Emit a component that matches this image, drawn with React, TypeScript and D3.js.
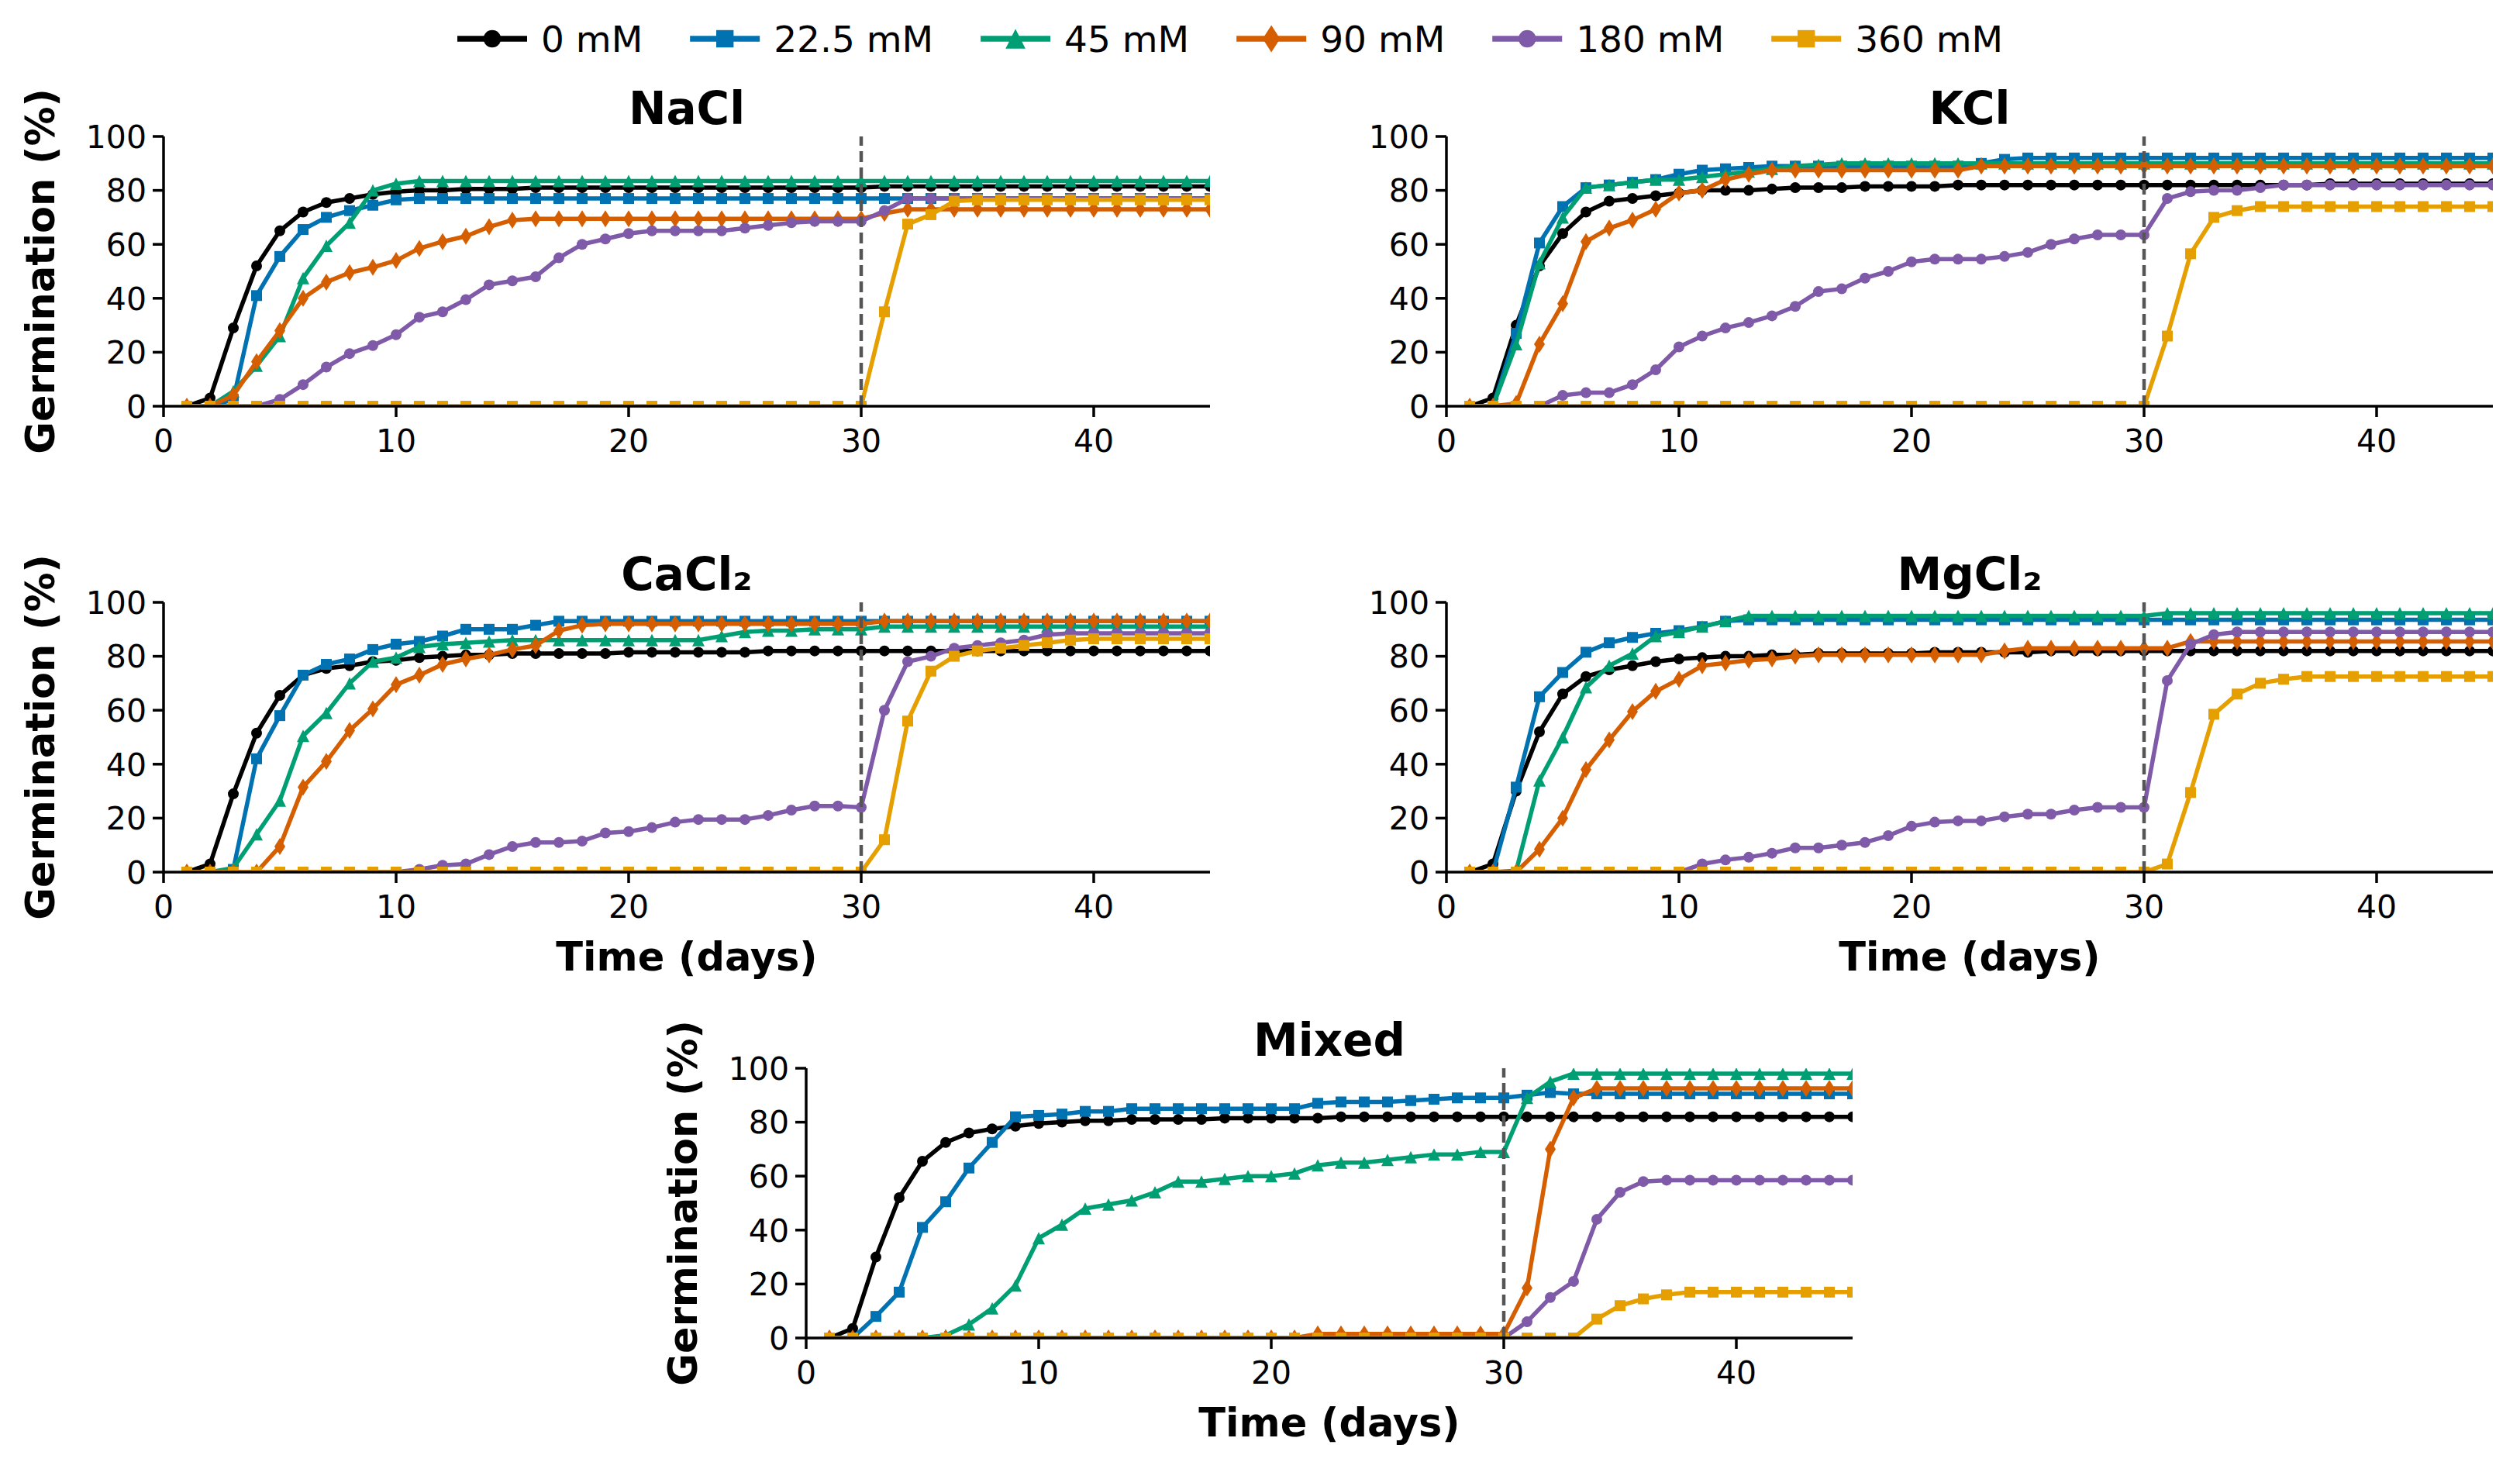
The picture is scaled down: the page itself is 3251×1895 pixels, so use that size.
import * as d3 from "d3";
import { useEffect } from "react";

// days 1..45, one reading per day
const days = d3.range(1, 46);
const concentrations = ["0 mM", "22.5 mM", "45 mM", "90 mM", "180 mM", "360 mM"];
const colors = ["#000000", "#0072B2", "#009E73", "#D55E00", "#7F5AA8", "#E69F00"];
const markerKinds = ["circle", "square", "triangle", "diamond", "circle", "square"];
const xTicks = [0, 10, 20, 30, 40];
const yTicks = [0, 20, 40, 60, 80, 100];

const nacl = [
  [0, 3, 29, 52, 65, 72, 75.5, 77, 78.5, 79.5, 80, 80, 80.5, 80.5, 80.5,
   81, 81, 81, 81, 81, 81, 81, 81, 81, 81, 81, 81, 81, 81, 81,
   81.5, 81.5, 81.5, 81.5, 81.5, 81.5, 81.5, 81.5, 81.5, 81.5, 81.5, 81.5, 81.5, 81.5, 81.5],
  [0, 0, 2.5, 41, 55.5, 65.5, 70, 72.5, 74.5, 76.5, 77, 77, 77, 77, 77,
   77, 77, 77, 77, 77, 77, 77, 77, 77, 77, 77, 77, 77, 77, 77,
   77, 77, 77, 77, 77, 77, 77, 77, 77, 77, 77, 77, 77, 77, 77],
  [0, 0, 5.5, 15, 26, 47.5, 59.5, 68, 80, 82.5, 83.5, 83.5, 83.5, 83.5, 83.5,
   83.5, 83.5, 83.5, 83.5, 83.5, 83.5, 83.5, 83.5, 83.5, 83.5, 83.5, 83.5, 83.5, 83.5, 83.5,
   83.5, 83.5, 83.5, 83.5, 83.5, 83.5, 83.5, 83.5, 83.5, 83.5, 83.5, 83.5, 83.5, 83.5, 83.5],
  [0, 0, 4, 16.5, 28, 40, 46, 49.5, 51.5, 54, 58.5, 61, 63, 66.5, 69,
   69.5, 69.5, 69.5, 69.5, 69.5, 69.5, 69.5, 69.5, 69.5, 69.5, 69.5, 69.5, 69.5, 69.5, 69.5,
   71.5, 73, 73, 73, 73, 73, 73, 73, 73, 73, 73, 73, 73, 73, 73],
  [0, 0, 0, 0, 2.5, 8, 14.5, 19.5, 22.5, 26.5, 33, 35, 39.5, 45, 46.5,
   48, 55, 60, 62, 64, 65, 65, 65, 65, 66, 67, 68, 68.5, 68.5, 68.5,
   72.5, 77, 77, 77, 77, 77, 77, 77, 77, 77, 77, 77, 77, 77, 77],
  [0, 0, 0, 0, 0, 0, 0, 0, 0, 0, 0, 0, 0, 0, 0,
   0, 0, 0, 0, 0, 0, 0, 0, 0, 0, 0, 0, 0, 0, 0,
   35, 67.5, 71, 76, 76.5, 76.5, 76.5, 76.5, 76.5, 76.5, 76.5, 76.5, 76.5, 76.5, 76.5],
];

const kcl = [
  [0, 3, 30, 52, 64, 72, 76, 77, 78, 79, 80, 80, 80, 80.5, 81,
   81, 81, 81.5, 81.5, 81.5, 81.5, 82, 82, 82, 82, 82, 82, 82, 82, 82,
   82, 82, 82, 82, 82, 82, 82, 82.5, 82.5, 82.5, 82.5, 82.5, 82.5, 82.5, 82.5],
  [0, 0, 27, 60.5, 74, 81, 82, 83, 84, 86, 87.5, 88, 88.5, 89, 89,
   89, 89, 89, 89, 89, 89, 89, 90, 91.5, 92, 92, 92, 92, 92, 92,
   92, 92, 92, 92, 92, 92, 92, 92, 92, 92, 92, 92, 92, 92, 92],
  [0, 0, 23, 53, 70, 81, 82, 83, 84, 84, 85, 86, 87, 88, 89,
   89.5, 90, 90, 90, 90, 90, 90, 90, 90, 90, 90, 90, 90, 90, 90,
   90, 90, 90, 90, 90, 90, 90, 90, 90, 90, 90, 90, 90, 90, 90],
  [0, 0, 1, 23, 38, 61, 66, 69, 73, 79, 80, 84, 86, 87.5, 87.5,
   87.5, 87.5, 87.5, 87.5, 87.5, 87.5, 87.5, 89, 89, 89, 89, 89, 89, 89, 89,
   89, 89, 89, 89, 89, 89, 89, 89, 89, 89, 89, 89, 89, 89, 89],
  [0, 0, 0, 0, 4, 5, 5, 8, 13.5, 22, 26, 29, 31, 33.5, 37,
   42.5, 43.5, 47.5, 50, 53.5, 54.5, 54.5, 54.5, 55.5, 57, 60, 62, 63.5, 63.5, 63.5,
   77, 79.5, 80, 80, 81, 82, 82, 82, 82, 82, 82, 82, 82, 82, 82],
  [0, 0, 0, 0, 0, 0, 0, 0, 0, 0, 0, 0, 0, 0, 0,
   0, 0, 0, 0, 0, 0, 0, 0, 0, 0, 0, 0, 0, 0, 0,
   26, 56.5, 70, 72.5, 74, 74, 74, 74, 74, 74, 74, 74, 74, 74, 74],
];

const cacl2 = [
  [0, 3, 29, 51.5, 65.5, 73, 75.5, 76.5, 78, 78.5, 79.5, 80, 80.5, 80.5, 81,
   81, 81, 81, 81, 81.5, 81.5, 81.5, 81.5, 81.5, 81.5, 82, 82, 82, 82, 82,
   82, 82, 82, 82, 82, 82, 82, 82, 82, 82, 82, 82, 82, 82, 82],
  [0, 0, 1, 42, 58, 73, 77, 79, 82.5, 84.5, 85.5, 87.5, 90, 90, 90,
   91.5, 93, 93, 93, 93, 93, 93, 93, 93, 93, 93, 93, 93, 93, 93,
   93, 93, 93, 93, 93, 93, 93, 93, 93, 93, 93, 93, 93, 93, 93],
  [0, 0, 1.5, 14, 26.5, 50.5, 59, 70, 78, 79.5, 83.5, 84.5, 85, 85.5, 86,
   86, 86, 86, 86, 86, 86, 86, 86, 87.5, 89, 89.5, 89.5, 90, 90, 90,
   91, 91, 91, 91, 91, 91, 91, 91, 91, 91, 91, 91, 91, 91, 91],
  [0, 0, 0, 0, 9.5, 31.5, 41, 52.5, 60.5, 69.5, 73, 77, 79, 80.5, 82.5,
   84, 89.5, 91.5, 92, 92, 92, 92, 92, 92, 92, 92, 92, 92, 92, 92,
   93, 93, 93, 93, 93, 93, 93, 93, 93, 93, 93, 93, 93, 93, 93],
  [0, 0, 0, 0, 0, 0, 0, 0, 0, 0, 1, 2.5, 3, 6.5, 9.5,
   11, 11, 11.5, 14.5, 15, 16.5, 18.5, 19.5, 19.5, 19.5, 21, 23, 24.5, 24.5, 24,
   60, 78, 80, 83, 84, 85, 86, 88, 88.5, 88.5, 88.5, 88.5, 88.5, 88.5, 88.5],
  [0, 0, 0, 0, 0, 0, 0, 0, 0, 0, 0, 0, 0, 0, 0,
   0, 0, 0, 0, 0, 0, 0, 0, 0, 0, 0, 0, 0, 0, 0,
   12, 56, 74.5, 80, 82, 83, 84, 85, 86, 86.5, 86.5, 86.5, 86.5, 86.5, 86.5],
];

const mgcl2 = [
  [0, 3, 30, 52, 66, 72.5, 75, 76.5, 78, 79, 79.5, 80, 80, 80.5, 80.5,
   81, 81, 81, 81, 81, 81.5, 81.5, 81.5, 81.5, 81.5, 82, 82, 82, 82, 82,
   82, 82, 82, 82, 82, 82, 82, 82, 82, 82, 82, 82, 82, 82, 82],
  [0, 0, 31.5, 65, 74, 81.5, 85, 87, 88.5, 89.5, 91, 93, 93.5, 93.5, 93.5,
   93.5, 93.5, 93.5, 93.5, 93.5, 93.5, 93.5, 93.5, 93.5, 93.5, 93.5, 93.5, 93.5, 93.5, 93.5,
   93.5, 93.5, 93.5, 93.5, 93.5, 93.5, 93.5, 93.5, 93.5, 93.5, 93.5, 93.5, 93.5, 93.5, 93.5],
  [0, 0, 0.5, 34, 50, 68.5, 76.5, 81, 87.5, 89, 91, 93, 95, 95, 95,
   95, 95, 95, 95, 95, 95, 95, 95, 95, 95, 95, 95, 95, 95, 95,
   96, 96, 96, 96, 96, 96, 96, 96, 96, 96, 96, 96, 96, 96, 96],
  [0, 0, 0, 8.5, 20, 38, 49, 59.5, 67, 71.5, 76.5, 77.5, 78.5, 79, 80,
   80.5, 80.5, 80.5, 80.5, 80.5, 80.5, 80.5, 80.5, 82, 83, 83, 83, 83, 83, 83,
   83, 85.5, 85.5, 85.5, 85.5, 85.5, 85.5, 85.5, 85.5, 85.5, 85.5, 85.5, 85.5, 85.5, 85.5],
  [0, 0, 0, 0, 0, 0, 0, 0, 0, 0, 3, 4.5, 5.5, 7, 9,
   9, 10, 11, 13.5, 17, 18.5, 19, 19, 20.5, 21.5, 21.5, 23, 24, 24, 24,
   71, 84.5, 88, 89, 89, 89, 89, 89, 89, 89, 89, 89, 89, 89, 89],
  [0, 0, 0, 0, 0, 0, 0, 0, 0, 0, 0, 0, 0, 0, 0,
   0, 0, 0, 0, 0, 0, 0, 0, 0, 0, 0, 0, 0, 0, 0,
   3, 29.5, 58.5, 66, 70, 71.5, 72.5, 72.5, 72.5, 72.5, 72.5, 72.5, 72.5, 72.5, 72.5],
];

const mixed = [
  [0, 3.5, 30, 52, 65.5, 72.5, 76, 77.5, 78.5, 79.5, 80, 80.5, 80.5, 81, 81,
   81, 81, 81.5, 81.5, 81.5, 81.5, 81.5, 82, 82, 82, 82, 82, 82, 82, 82,
   82, 82, 82, 82, 82, 82, 82, 82, 82, 82, 82, 82, 82, 82, 82],
  [0, 0, 8, 17, 41, 50.5, 63, 72.5, 82, 82.5, 83, 84, 84, 85, 85,
   85, 85, 85, 85, 85, 85, 87, 87.5, 87.5, 87.5, 88, 88.5, 89, 89, 89,
   90, 91, 90.5, 90.5, 90.5, 90.5, 90.5, 90.5, 90.5, 90.5, 90.5, 90.5, 90.5, 90.5, 90.5],
  [0, 0, 0, 0, 0, 1, 5, 11, 19.5, 37, 42, 48, 49.5, 51, 54,
   58, 58, 59, 60, 60, 61, 64, 65, 65, 66, 67, 68, 68, 69, 69,
   89, 95, 98, 98, 98, 98, 98, 98, 98, 98, 98, 98, 98, 98, 98],
  [0, 0, 0, 0, 0, 0, 0, 0, 0, 0, 0, 0, 0, 0, 0,
   0, 0, 0, 0, 0, 0, 1.5, 1.5, 1.5, 1.5, 1.5, 1.5, 1.5, 1.5, 1.5,
   18.5, 70, 89, 92.5, 92.5, 92.5, 92.5, 92.5, 92.5, 92.5, 92.5, 92.5, 92.5, 92.5, 92.5],
  [0, 0, 0, 0, 0, 0, 0, 0, 0, 0, 0, 0, 0, 0, 0,
   0, 0, 0, 0, 0, 0, 0, 0, 0, 0, 0, 0, 0, 0, 0,
   6, 15, 21, 44, 54, 58, 58.5, 58.5, 58.5, 58.5, 58.5, 58.5, 58.5, 58.5, 58.5],
  [0, 0, 0, 0, 0, 0, 0, 0, 0, 0, 0, 0, 0, 0, 0,
   0, 0, 0, 0, 0, 0, 0, 0, 0, 0, 0, 0, 0, 0, 0,
   0, 0, 0, 7, 12, 14.5, 16, 17, 17, 17, 17, 17, 17, 17, 17],
];

const panels = [
  { id: "nacl", title: "NaCl", data: nacl, left: 211, top: 176, xLabel: false, yLabel: true },
  { id: "kcl", title: "KCl", data: kcl, left: 1866, top: 176, xLabel: false, yLabel: false },
  { id: "cacl2", title: "CaCl\u2082", data: cacl2, left: 211, top: 777, xLabel: true, yLabel: true },
  { id: "mgcl2", title: "MgCl\u2082", data: mgcl2, left: 1866, top: 777, xLabel: true, yLabel: false },
  { id: "mixed", title: "Mixed", data: mixed, left: 1040, top: 1378, xLabel: true, yLabel: true },
];

const PW = 1350;
const PH = 348;
const FONT = "DejaVu Sans";

function markerPath(kind: string, s = 1) {
  if (kind === "circle") return d3.symbol(d3.symbolCircle, Math.PI * 7 * 7 * s * s)() || "";
  if (kind === "square") return d3.symbol(d3.symbolSquare, 14 * 14 * s * s)() || "";
  if (kind === "triangle") {
    const h = 16 * s;
    return `M0,${-h / 2}L${h / 2},${h / 2}L${-h / 2},${h / 2}Z`;
  }
  const h = 11 * s;
  const w = 7 * s;
  return `M0,${-h}L${w},0L0,${h}L${-w},0Z`;
}

function Panel({ id, title, data, left, top, xLabel, yLabel }: (typeof panels)[number]) {
  const x = d3.scaleLinear().domain([0, 45]).range([left, left + PW]);
  const y = d3.scaleLinear().domain([0, 100]).range([top + PH, top]);
  const line = d3
    .line<number>()
    .x((_, i) => x(days[i]))
    .y((v) => y(v));
  const clipId = `clip-${id}`;
  const bottom = y(0);

  return (
    <g>
      <clipPath id={clipId}>
        <rect x={x(0)} y={y(100)} width={x(45) - x(0)} height={y(0) - y(100)} />
      </clipPath>
      <g clipPath={`url(#${clipId})`}>
        {data.map((vals, si) => (
          <g key={si}>
            <path d={line(vals) || undefined} fill="none" stroke={colors[si]} strokeWidth={5.5} strokeLinejoin="round" />
            {vals.map((v, i) => (
              <path
                key={i}
                d={markerPath(markerKinds[si])}
                transform={`translate(${x(days[i])},${y(v)})`}
                fill={colors[si]}
              />
            ))}
          </g>
        ))}
        <path
          d={`M${x(30)},${y(0)}L${x(30)},${y(100)}`}
          stroke="#555"
          strokeWidth={4.5}
          strokeDasharray="14 7"
          fill="none"
        />
      </g>

      {/* spines */}
      <line x1={x(0)} x2={x(45)} y1={bottom} y2={bottom} stroke="#000" strokeWidth={3.5} />
      <line x1={x(0)} x2={x(0)} y1={bottom + 1.75} y2={y(100)} stroke="#000" strokeWidth={3.5} />

      {xTicks.map((t) => (
        <g key={t}>
          <line x1={x(t)} x2={x(t)} y1={bottom} y2={bottom + 14} stroke="#000" strokeWidth={3.5} />
          <text x={x(t)} y={bottom + 59} textAnchor="middle" fontSize={41}>
            {t}
          </text>
        </g>
      ))}
      {yTicks.map((t) => (
        <g key={t}>
          <line x1={x(0) - 14} x2={x(0)} y1={y(t)} y2={y(t)} stroke="#000" strokeWidth={3.5} />
          <text x={x(0) - 22} y={y(t)} dy="0.36em" textAnchor="end" fontSize={41}>
            {t}
          </text>
        </g>
      ))}

      <text x={(x(0) + x(45)) / 2} y={y(100) - 16} textAnchor="middle" fontSize={58} fontWeight="bold">
        {title}
      </text>
      {xLabel && (
        <text x={(x(0) + x(45)) / 2} y={bottom + 127} textAnchor="middle" fontSize={51} fontWeight="bold">
          Time (days)
        </text>
      )}
      {yLabel && (
        <text
          transform={`translate(${x(0) - 141},${(y(0) + y(100)) / 2}) rotate(-90)`}
          textAnchor="middle"
          fontSize={51}
          fontWeight="bold"
        >
          Germination (%)
        </text>
      )}
    </g>
  );
}

// rough DejaVu Sans advance widths, used to space the legend entries
const charW: Record<string, number> = { ".": 0.318, " ": 0.318, m: 0.974, M: 0.863 };
const textWidth = (s: string, size: number) =>
  s.split("").reduce((a, c) => a + (charW[c] ?? 0.636), 0) * size;

function Legend() {
  const fs = 47;
  const cy = 50;
  let cursor = 590;
  const items = concentrations.map((label, i) => {
    const start = cursor;
    cursor = start + 108 + textWidth(label, fs) + 61;
    return { label, i, start };
  });
  return (
    <g>
      {items.map(({ label, i, start }) => (
        <g key={label}>
          <line x1={start} x2={start + 90} y1={cy} y2={cy} stroke={colors[i]} strokeWidth={7.5} />
          <path d={markerPath(markerKinds[i], 1.6)} transform={`translate(${start + 45},${cy})`} fill={colors[i]} />
          <text x={start + 108} y={cy} dy="0.36em" fontSize={fs}>
            {label}
          </text>
        </g>
      ))}
    </g>
  );
}

export default function App() {
  useEffect(() => {
    document.body.style.margin = "0";
  }, []);
  return (
    <svg width={3251} height={1895} fontFamily={FONT} style={{ display: "block", background: "#fff" }}>
      <rect width={3251} height={1895} fill="#fff" />
      <Legend />
      {panels.map((p) => (
        <Panel key={p.id} {...p} />
      ))}
    </svg>
  );
}
